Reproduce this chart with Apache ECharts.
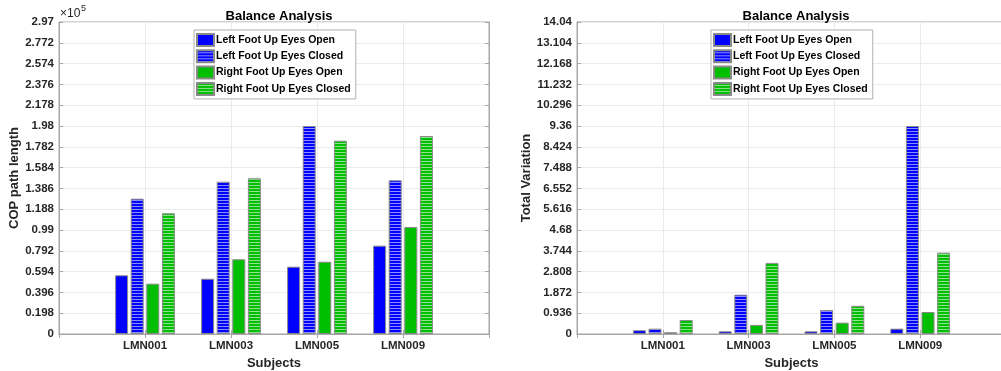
<!DOCTYPE html>
<html>
<head>
<meta charset="utf-8">
<script src="https://cdn.jsdelivr.net/npm/echarts@6/dist/echarts.min.js"></script>
<style>
  html, body { margin: 0; padding: 0; background: #fff; }
  #chart { width: 1001px; height: 371px; }
</style>
</head>
<body>
<div id="chart"></div>
<script>
// Subjects (padded with empty slots so the axis runs from 0 to 5)
const subjects = ['LMN001', 'LMN003', 'LMN005', 'LMN009'];
const seriesNames = ['Left Foot Up Eyes Open', 'Left Foot Up Eyes Closed',
                     'Right Foot Up Eyes Open', 'Right Foot Up Eyes Closed'];

// COP path length (raw units)
const copLeftOpen    = [55900, 52600, 64100, 84100];
const copLeftClosed  = [128800, 145000, 198000, 146300];
const copRightOpen   = [47900, 71100, 68800, 101900];
const copRightClosed = [114900, 148200, 184000, 188500];

// Total variation
const tvLeftOpen    = [0.17, 0.12, 0.12, 0.24];
const tvLeftClosed  = [0.24, 1.77, 1.08, 9.36];
const tvRightOpen   = [0.08, 0.41, 0.51, 0.99];
const tvRightClosed = [0.63, 3.20, 1.27, 3.66];

// Tick labels
const copTickLabels = ['0', '0.198', '0.396', '0.594', '0.792', '0.99', '1.188', '1.386',
                       '1.584', '1.782', '1.98', '2.178', '2.376', '2.574', '2.772', '2.97'];
const tvTickLabels = ['0', '0.936', '1.872', '2.808', '3.744', '4.68', '5.616', '6.552',
                      '7.488', '8.424', '9.36', '10.296', '11.232', '12.168', '13.104', '14.04'];
const copInterval = 19800, copMax = 297000;
const tvInterval = 0.936, tvMax = 14.04;

const FONT = '"Liberation Sans", Arial, Helvetica, sans-serif';
const AXIS_COLOR = '#a6a6a6';
const TEXT_COLOR = '#262626';
const BLUE = '#0000ff';
const GREEN = '#00bf00';

function stripes(base, line) {
  const c = document.createElement('canvas');
  c.width = 4; c.height = 3;
  const g = c.getContext('2d');
  g.fillStyle = base; g.fillRect(0, 0, 4, 3);
  g.fillStyle = line; g.fillRect(0, 2, 4, 1);
  return { image: c, repeat: 'repeat' };
}

const fills = [BLUE, stripes(BLUE, '#8c8cff'), GREEN, stripes(GREEN, '#8fe08f')];
const categories = [''].concat(subjects, ['']);
const pad = arr => ['-'].concat(arr, ['-']);

const grids = [
  { left: 59, top: 22, width: 430, height: 312 },
  { left: 577, top: 22, width: 429, height: 312 }
];

function xAxes(gridIndex) {
  const base = {
    type: 'category', gridIndex, data: categories, boundaryGap: false,
    axisLine: { lineStyle: { color: AXIS_COLOR, width: 1 } },
    axisTick: { inside: true, length: 4, lineStyle: { color: AXIS_COLOR } }
  };
  return [
    Object.assign({}, base, {
      position: 'bottom',
      axisLabel: { color: TEXT_COLOR, fontFamily: FONT, fontWeight: 'bold', fontSize: 11.5, margin: 6 },
      splitLine: { show: true, lineStyle: { color: '#ebebeb' } },
      name: 'Subjects', nameLocation: 'middle', nameGap: 20,
      nameTextStyle: { color: TEXT_COLOR, fontFamily: FONT, fontWeight: 'bold', fontSize: 13 }
    }),
    Object.assign({}, base, {
      position: 'top', axisLabel: { show: false }, splitLine: { show: false }
    })
  ];
}

function yAxes(gridIndex, max, interval, labels, name, gap) {
  const base = {
    type: 'value', gridIndex, min: 0, max, interval,
    axisLine: { show: true, lineStyle: { color: AXIS_COLOR, width: 1 } },
    axisTick: { show: true, inside: true, length: 4, lineStyle: { color: AXIS_COLOR } }
  };
  return [
    Object.assign({}, base, {
      position: 'left',
      axisLabel: {
        color: TEXT_COLOR, fontFamily: FONT, fontWeight: 'bold', fontSize: 11.5, margin: 5,
        formatter: v => labels[Math.round(v / interval)]
      },
      splitLine: { show: true, lineStyle: { color: '#ebebeb' } },
      name, nameLocation: 'middle', nameGap: gap,
      nameTextStyle: { color: TEXT_COLOR, fontFamily: FONT, fontWeight: 'bold', fontSize: 13 }
    }),
    Object.assign({}, base, {
      position: 'right', axisLabel: { show: false }, splitLine: { show: false }
    })
  ];
}

function barSeries(gridIdx, data) {
  return data.map((vals, i) => ({
    type: 'bar', name: seriesNames[i],
    xAxisIndex: gridIdx * 2, yAxisIndex: gridIdx * 2,
    data: pad(vals), barWidth: 13, barGap: '20%',
    itemStyle: { color: fills[i], borderColor: '#8a8a8a', borderWidth: 1 },
    emphasis: { disabled: true }, animation: false
  }));
}

function legend(left) {
  return {
    data: seriesNames, orient: 'vertical', left, top: 30,
    icon: 'rect', itemWidth: 17, itemHeight: 12, itemGap: 2.3,
    padding: [3, 5, 3, 2], borderColor: '#b0b0b0', borderWidth: 1,
    backgroundColor: '#fff', selectedMode: false,
    textStyle: { color: '#000', fontFamily: FONT, fontWeight: 'bold', fontSize: 10.5, padding: [0, 0, 0, -3] }
  };
}

const titleStyle = { color: '#000', fontFamily: FONT, fontWeight: 'bold', fontSize: 13 };

const chart = echarts.init(document.getElementById('chart'), null, { renderer: 'canvas', devicePixelRatio: 1 });
chart.setOption({
  backgroundColor: '#fff',
  animation: false,
  title: [
    { text: 'Balance Analysis', left: 274, top: 5, textAlign: 'center', textStyle: titleStyle },
    { text: 'Balance Analysis', left: 791, top: 5, textAlign: 'center', textStyle: titleStyle }
  ],
  graphic: [
    { type: 'text', left: 60, top: 8, style: { text: '×10', fill: TEXT_COLOR, font: '12px ' + FONT } },
    { type: 'text', left: 81, top: 4, style: { text: '5', fill: TEXT_COLOR, font: '9px ' + FONT } }
  ],
  legend: [legend(194), legend(711)],
  grid: grids.map(g => Object.assign({
    show: true, borderColor: AXIS_COLOR, borderWidth: 1,
    containLabel: false, outerBoundsMode: 'none'
  }, g)),
  xAxis: xAxes(0).concat(xAxes(1)),
  yAxis: yAxes(0, copMax, copInterval, copTickLabels, 'COP path length', 33)
    .concat(yAxes(1, tvMax, tvInterval, tvTickLabels, 'Total Variation', 40)),
  series: barSeries(0, [copLeftOpen, copLeftClosed, copRightOpen, copRightClosed])
    .concat(barSeries(1, [tvLeftOpen, tvLeftClosed, tvRightOpen, tvRightClosed]))
});
</script>
</body>
</html>
